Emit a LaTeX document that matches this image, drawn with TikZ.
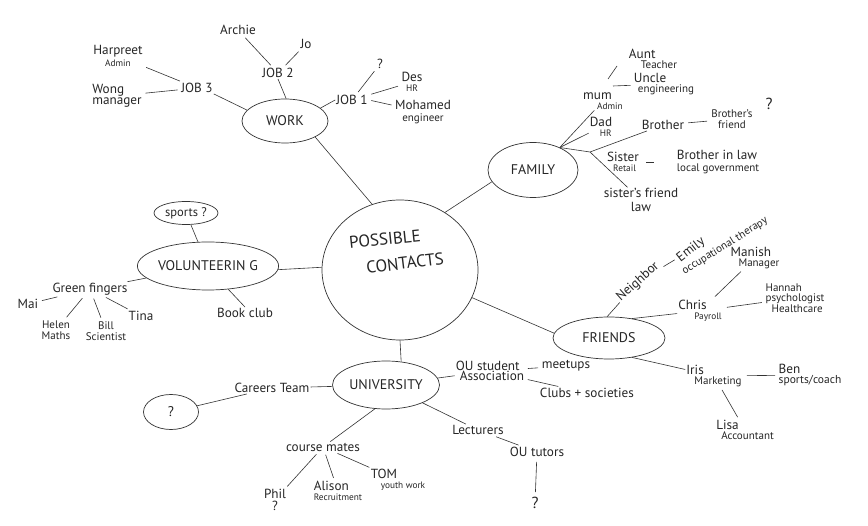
\documentclass[tikz,border=0pt]{standalone}
\usepackage{fontspec}
\setmainfont{PT Sans}
\usetikzlibrary{shapes.geometric}
\begin{document}
\begin{tikzpicture}[x=1pt,y=-1pt,
  ink/.style={draw=black!80, line width=0.6pt},
  bubble/.style={ellipse, draw=black!80, line width=0.7pt, inner sep=0pt, font=\fontsize{14}{14}\selectfont, text=black!85},
  lbl/.style={font=\fontsize{13.2}{13.5}\selectfont, text=black!85, inner sep=1pt, align=left},
  big/.style={font=\fontsize{17}{17}\selectfont, text=black!85, inner sep=0pt},
  link/.style={ink, shorten <=2.5pt, shorten >=2.5pt}]
\newcommand{\sm}{\fontsize{9.3}{9.5}\selectfont}
\newcommand{\md}{\fontsize{11}{11.5}\selectfont}
\useasboundingbox (0,0) rectangle (868,526);
\fill[white] (0,0) rectangle (868,526);

% bubbles
\node[bubble, minimum width=156pt, minimum height=140pt] (central) at (400,270) {};
\node[big, rotate=6] (possible) at (385,239) {POSSIBLE};
\node[big, rotate=7] (contacts) at (405,263) {CONTACTS};
\node[bubble, minimum width=86pt, minimum height=44pt] (work) at (285,121) {WORK};
\node[bubble, minimum width=90pt, minimum height=55pt] (family) at (533,170) {FAMILY};
\node[bubble, minimum width=133pt, minimum height=48pt] (volunt) at (208,266) {VOLUNTEERIN G};
\node[bubble, minimum width=112pt, minimum height=42pt] (friends) at (609,338) {FRIENDS};
\node[bubble, minimum width=107pt, minimum height=48pt] (univ) at (386,385) {UNIVERSITY};
\node[bubble, minimum width=64pt, minimum height=23pt, font=\fontsize{12.5}{13}\selectfont] (sports) at (186,213) {sports ?};
\node[bubble, minimum width=55pt, minimum height=35pt] (qbox) at (171,412) {?};

% work
\node[lbl] (archie) at (238,30) {Archie};
\node[lbl] (jo) at (306,44) {Jo};
\node[lbl] (job2) at (278,73) {JOB 2};
\node[lbl, align=center] (harpreet) at (118,56) {Harpreet\\[-2pt]{\sm Admin}};
\node[lbl] (wong) at (117,96) {Wong\\[-2pt]manager};
\node[lbl] (job3) at (197,88) {JOB 3};
\node[lbl] (job1) at (352,100) {JOB 1};
\node[lbl] (q1) at (380,64) {?};
\node[lbl, align=center] (des) at (412,82) {Des\\[-3pt]{\sm HR}};
\node[lbl, align=center] (mohamed) at (423,112) {Mohamed\\[-2pt]{\md engineer}};

% family
\node[lbl] (mum) at (603,101) {mum\\[-4pt]\hspace*{14pt}{\sm Admin}};
\node[lbl] (dad) at (601,127) {Dad\\[-4pt]\hspace*{10pt}{\sm HR}};
\node[lbl] (aunt) at (653,59) {Aunt\\[-4pt]\hspace*{12pt}{\md Teacher}};
\node[lbl] (uncle) at (664,84) {Uncle\\[-4pt]\hspace*{4pt}{\md engineering}};
\node[lbl] (brother) at (663,125) {Brother};
\node[lbl, align=center] (brosfriend) at (732,119) {\md Brother's\\[-3pt]\md friend};
\node[lbl, font=\fontsize{16}{16}\selectfont] (q2) at (769,104) {?};
\node[lbl] (sister) at (623,162) {Sister\\[-4pt]\hspace*{6pt}{\sm Retail}};
\node[lbl] (bil) at (718,162) {Brother in law\\[-2pt]{\md local government}};
\node[lbl, align=center] (sfriend) at (641,200) {sister's friend\\law};
\coordinate (famtop) at (family.40);
\coordinate (famj) at (590,152);
\coordinate (auntlo) at (608,79);
\coordinate (aunthi) at (617,66);
\coordinate (unclelo) at (613,86);

% volunteering
\node[lbl] (green) at (90,289) {Green fingers};
\node[lbl] (mai) at (28,304) {Mai};
\node[lbl, align=center] (helen) at (56,330) {\md Helen\\[-2pt]\md Maths};
\node[lbl, align=center] (bill) at (106,331) {\md Bill\\[-2pt]\md Scientist};
\node[lbl] (tina) at (141,316) {Tina};
\node[lbl] (bookclub) at (245,313) {Book club};

% friends
\node[lbl, rotate=42] (neighbor) at (638,282) {Neighbor};
\node[lbl, rotate=38] (emily) at (691,250) {Emily};
\node[lbl, rotate=32, font=\md] (occ) at (725,246) {occupational therapy};
\node[lbl] (chris) at (700,311) {Chris\\[-4pt]\hspace*{16pt}{\sm Payroll}};
\node[lbl] (manish) at (755,258) {Manish\\[-4pt]\hspace*{8pt}{\md Manager}};
\node[lbl] (hannah) at (795,298) {\md Hannah\\[-3pt]\md psychologist\\[-3pt]\md\hspace*{6pt}Healthcare};
\node[lbl] (iris) at (714,376) {Iris\\[-4pt]\hspace*{8pt}{\md Marketing}};
\node[lbl] (ben) at (810,375) {Ben\\[-4pt]{\fontsize{11.5}{12}\selectfont sports/coach}};
\node[lbl] (lisa) at (745,430) {Lisa\\[-4pt]\hspace*{5pt}{\md Accountant}};

% university
\node[lbl] (careers) at (272,388) {Careers Team};
\node[lbl] (ousa) at (490,371) {OU student\\[-4pt]\hspace*{4pt}Association};
\node[lbl] (meetups) at (566,366) {meetups};
\node[lbl] (clubs) at (587,393) {Clubs + societies};
\node[lbl] (lecturers) at (478,430) {Lecturers};
\node[lbl] (oututors) at (537,452) {OU tutors};
\node[lbl, font=\fontsize{16}{16}\selectfont] (q3) at (535,503) {?};
\node[lbl] (coursemates) at (323,447) {course mates};
\node[lbl, align=center] (phil) at (275,500) {Phil\\[-2pt]?};
\node[lbl] (alison) at (338,491) {Alison\\[-4pt]{\sm Recruitment}};
\node[lbl] (tom) at (398,480) {TOM\\[-4pt]\hspace*{10pt}{\sm youth work}};

% main connectors
\draw[ink] (central.113) -- (work.-28);
\draw[ink] (central.52) -- (family.196);
\draw[ink] (central.178) -- (volunt.-3);
\draw[ink] (central.-21) -- (friends.175);
\draw[ink] (central.-90) -- (univ.57);

% work connectors
\draw[ink] (work.20) -- (job1.west);
\draw[ink] (work.87) -- (job2.south);
\draw[ink] (work.164) -- (job3.south east);
\draw[link] (job2) -- (archie);
\draw[link] (job2) -- (jo);
\draw[link] (job3) -- (harpreet);
\draw[link] (job3) -- (wong);
\draw[link] (job1) -- (q1);
\draw[link] (job1) -- (des);
\draw[link] (job1.east) -- (mohamed);

% family connectors
\draw[ink] (famtop) -- (mum);
\draw[ink] (famtop) -- (dad);
\draw[ink] (famtop) -- (famj) -- (brother);
\draw[ink] (famj) -- (sfriend);
\draw[ink] (auntlo) -- (aunthi);
\draw[ink, shorten >=2pt] (unclelo) -- (uncle);
\draw[link, shorten <=3pt, shorten >=3pt] (brother) -- (brosfriend);
\draw[link, shorten <=6pt, shorten >=22pt] (sister.east) -- (bil.west);

% volunteering connectors
\draw[ink] (volunt) -- (sports);
\draw[ink] (volunt) -- (green);
\draw[ink] (volunt.-49) -- (bookclub.north);
\draw[link] (green) -- (mai);
\draw[link] (green) -- (helen);
\draw[link] (green) -- (bill);
\draw[link] (green) -- (tina);

% friends connectors
\draw[ink] (friends.95) -- (neighbor);
\draw[link, shorten <=2pt, shorten >=2pt] (neighbor) -- (emily);
\draw[ink] (friends.40) -- (chris);
\draw[link, shorten <=4pt] (chris) -- (manish);
\draw[link, shorten <=4pt] (chris) -- (hannah);
\draw[ink] (friends.-40) -- (iris);
\draw[link, shorten <=4pt] (iris) -- (ben);
\draw[link] (iris) -- (lisa);

% university connectors
\draw[ink] (univ) -- (careers);
\draw[ink] (careers) -- (qbox);
\draw[ink] (univ) -- (ousa);
\draw[link] (ousa) -- (meetups);
\draw[link] (ousa) -- (clubs);
\draw[ink] (univ) -- (lecturers);
\draw[link] (lecturers) -- (oututors);
\draw[link, shorten <=4pt, shorten >=4pt] (oututors) -- (q3);
\draw[ink] (univ.-115) -- (coursemates);
\draw[link] (coursemates) -- (phil);
\draw[link] (coursemates) -- (alison);
\draw[link] (coursemates) -- (tom);
\end{tikzpicture}
\end{document}
